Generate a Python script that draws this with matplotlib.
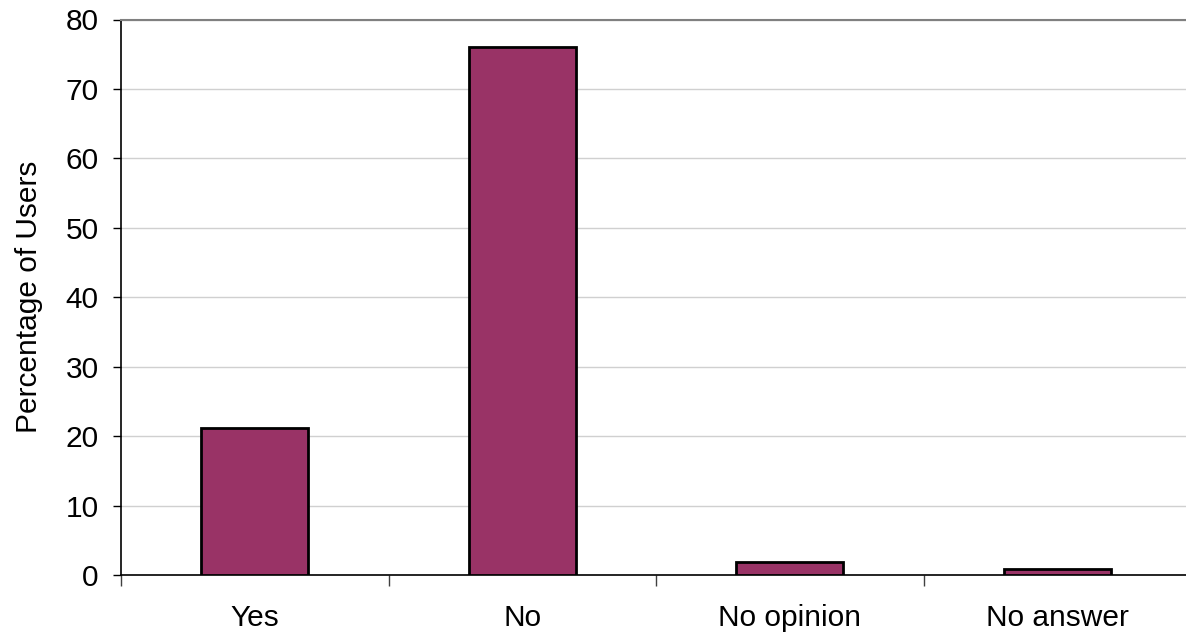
import numpy as np
import matplotlib.pyplot as plt

categories = ['Yes', 'No', 'No opinion', 'No answer']
values = [21.2, 76.0, 1.9, 0.9]

plt.rcParams['font.family'] = ['Liberation Sans', 'DejaVu Sans']

fig = plt.figure(figsize=(11.86, 6.38), dpi=100)
ax = fig.add_axes([121 / 1186, 63 / 638, 1070 / 1186, 555.5 / 638])

x = np.arange(len(categories))
ax.bar(x, values, width=0.4, color='#993366', edgecolor='black', linewidth=2, zorder=3)

ax.set_xlim(-0.5, len(categories) - 0.5)
ax.set_ylim(0, 80)
ax.set_yticks(np.arange(0, 81, 10))
ax.yaxis.grid(True, color='#d0d0d0', linewidth=1)
ax.set_axisbelow(True)

# category labels at centres, tick marks at boundaries
ax.set_xticks(x)
ax.set_xticklabels(categories, fontsize=21.5)
ax.set_xticks(np.arange(-0.5, len(categories), 1), minor=True)
ax.tick_params(axis='x', which='major', length=0, pad=21)
ax.tick_params(axis='x', which='minor', length=8, width=1, color='#404040', direction='out')
ax.tick_params(axis='y', labelsize=21.5, length=6, width=1, direction='out', pad=10)

ax.set_ylabel('Percentage of Users', fontsize=21.5, labelpad=16)

for s in ['left', 'bottom']:
    ax.spines[s].set_color('black')
    ax.spines[s].set_linewidth(1.2)
ax.spines['top'].set_color('#808080')
ax.spines['top'].set_linewidth(1.5)
ax.spines['right'].set_visible(False)

fig.savefig('out.png', dpi=100)
